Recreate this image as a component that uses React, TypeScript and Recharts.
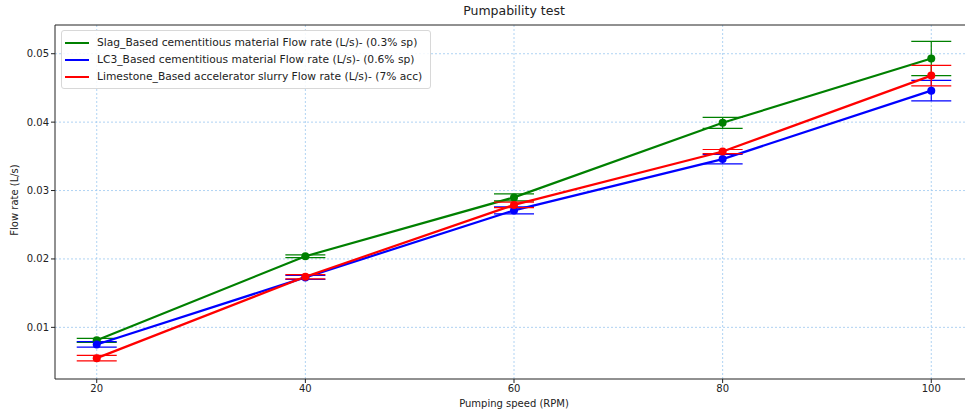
import React from "react";
import { ComposedChart, Line, XAxis, YAxis, CartesianGrid, ErrorBar, ReferenceLine } from "recharts";

const speeds = [20, 40, 60, 80, 100];
const slag = [0.0081, 0.0204, 0.0290, 0.0399, 0.0493];
const slagErr = [0.0003, 0.0002, 0.0005, 0.0008, 0.0025];
const lc3 = [0.0075, 0.0173, 0.0271, 0.0346, 0.0446];
const lc3Err = [0.0004, 0.0003, 0.0005, 0.0007, 0.0015];
const lime = [0.0055, 0.0174, 0.0279, 0.0357, 0.0468];
const limeErr = [0.0004, 0.0003, 0.0004, 0.0003, 0.0015];
const xTicks = [20, 40, 60, 80, 100];
const yTicks = [0.01, 0.02, 0.03, 0.04, 0.05];

const seriesNames = [
  "Slag_Based cementitious material Flow rate (L/s)- (0.3% sp)",
  "LC3_Based cementitious material Flow rate (L/s)- (0.6% sp)",
  "Limestone_Based accelerator slurry Flow rate (L/s)- (7% acc)",
];
const colors = ["#008000", "#0000ff", "#ff0000"];

const data = speeds.map((s, i) => ({
  speed: s,
  slag: slag[i],
  slagErr: slagErr[i],
  lc3: lc3[i],
  lc3Err: lc3Err[i],
  lime: lime[i],
  limeErr: limeErr[i],
}));

const font = "'DejaVu Sans', sans-serif";
const yMin = 0.00245;
const yMax = 0.0542;

export default function App() {
  const keys = [
    ["slag", "slagErr"],
    ["lc3", "lc3Err"],
    ["lime", "limeErr"],
  ];
  return (
    <div style={{ position: "absolute", left: 0, top: 0, width: 965, height: 418, overflow: "hidden", background: "#fff", fontFamily: font }}>
      <ComposedChart width={985} height={418} data={data} margin={{ top: 25, right: 12, bottom: 0, left: 0 }}>
        <CartesianGrid stroke="#9cc8f0" strokeDasharray="2 2" strokeWidth={0.8} horizontalValues={yTicks} verticalValues={xTicks} />
        <XAxis
          dataKey="speed"
          type="number"
          domain={[16, 104]}
          ticks={xTicks}
          allowDataOverflow
          height={39}
          tickSize={4}
          tickMargin={2}
          stroke="#222"
          tick={{ fontSize: 10, fill: "#222", fontFamily: font }}
        />
        <YAxis
          type="number"
          domain={[yMin, yMax]}
          ticks={yTicks}
          allowDataOverflow
          width={55}
          tickSize={4}
          tickMargin={2}
          stroke="#222"
          tickFormatter={(v: number) => v.toFixed(2)}
          tick={{ fontSize: 10, fill: "#222", fontFamily: font }}
        />
        <ReferenceLine y={yMax} stroke="#222" strokeWidth={1} ifOverflow="visible" />
        {keys.map(([k, e], i) => (
          <Line
            key={k}
            dataKey={k}
            type="linear"
            stroke={colors[i]}
            strokeWidth={2.2}
            dot={{ r: 4, fill: colors[i], stroke: colors[i], strokeWidth: 0 }}
            activeDot={false}
            isAnimationActive={false}
          >
            <ErrorBar dataKey={e} width={20} stroke={colors[i]} strokeWidth={1.2} direction="y" />
          </Line>
        ))}
      </ComposedChart>
      <div style={{ position: "absolute", left: 0, width: 1028, top: 3, textAlign: "center", fontSize: 12.5, color: "#222" }}>
        Pumpability test
      </div>
      <div style={{ position: "absolute", left: 0, width: 1028, top: 398, textAlign: "center", fontSize: 10, color: "#222" }}>
        Pumping speed (RPM)
      </div>
      <div
        style={{
          position: "absolute",
          left: 14,
          top: 200,
          transform: "translate(-50%, -50%) rotate(-90deg)",
          fontSize: 10,
          color: "#222",
          whiteSpace: "nowrap",
        }}
      >
        Flow rate (L/s)
      </div>
      <div
        style={{
          position: "absolute",
          left: 61,
          top: 30,
          padding: "3px 8px 3px 3px",
          border: "1px solid #d8d8d8",
          borderRadius: 3,
          background: "rgba(255,255,255,0.85)",
          fontSize: 10.7,
          color: "#222",
        }}
      >
        {seriesNames.map((n, i) => (
          <div key={n} style={{ display: "flex", alignItems: "center", height: 17 }}>
            <div style={{ width: 24, height: 2, background: colors[i], marginRight: 8 }} />
            <span style={{ whiteSpace: "nowrap" }}>{n}</span>
          </div>
        ))}
      </div>
    </div>
  );
}
